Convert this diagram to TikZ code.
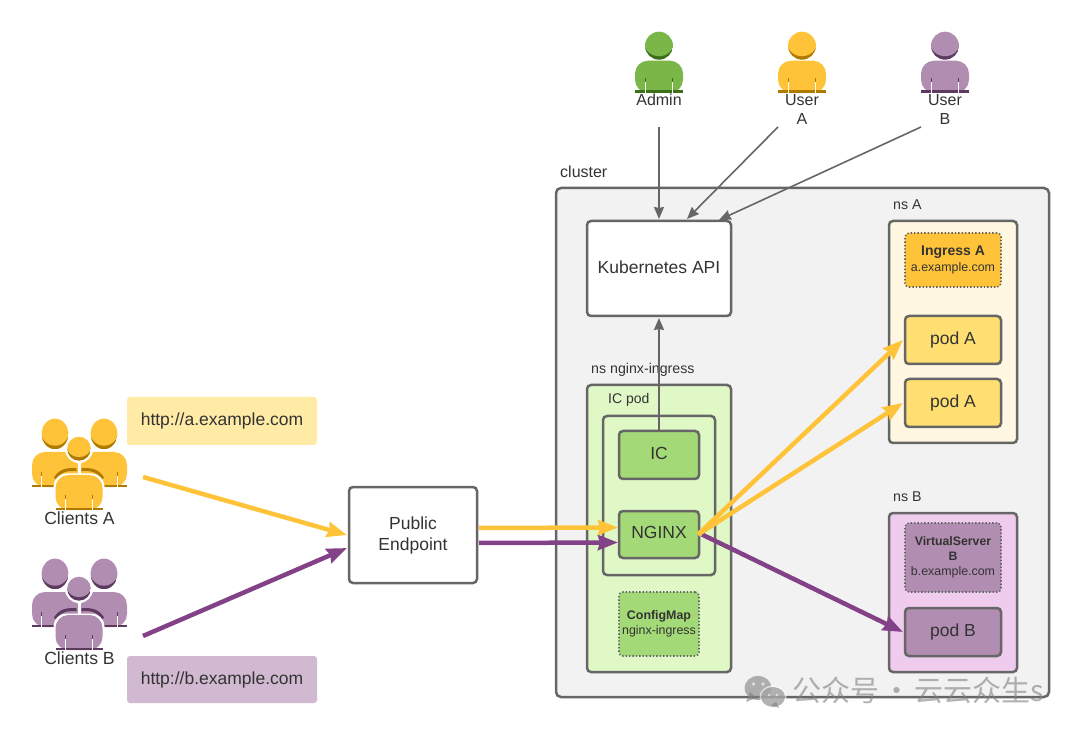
\documentclass[tikz,border=0pt]{standalone}
\usepackage{fontspec}
\setmainfont{Liberation Sans}
\newfontfamily\cjkfont{Noto Sans CJK SC}
\usetikzlibrary{arrows.meta}
\definecolor{txtgrey}{RGB}{51,51,51}
\definecolor{linegrey}{RGB}{102,102,102}
\definecolor{clusterfill}{RGB}{242,242,242}
\definecolor{nsgreen}{RGB}{224,248,198}
\definecolor{boxgreen}{RGB}{163,217,119}
\definecolor{nsyellow}{RGB}{255,247,225}
\definecolor{boxyellow}{RGB}{255,223,113}
\definecolor{boxorange}{RGB}{255,195,58}
\definecolor{nspurple}{RGB}{239,204,238}
\definecolor{boxpurple}{RGB}{177,142,177}
\definecolor{darkpurple}{RGB}{94,58,97}
\definecolor{darkorange}{RGB}{176,122,0}
\definecolor{usergreen}{RGB}{122,182,72}
\definecolor{darkgreen}{RGB}{58,112,24}
\definecolor{flowpurple}{RGB}{131,65,135}
\definecolor{urlyellow}{RGB}{255,235,166}
\definecolor{urlpurple}{RGB}{209,185,209}
\definecolor{markgrey}{RGB}{128,128,128}
\tikzset{
  box/.style={draw=linegrey,line width=2.5pt,rounded corners=4pt,outer sep=0pt,inner sep=0pt,align=center,text=txtgrey,font=\fontsize{17.5}{21}\selectfont},
  noteline/.style={box,dash pattern=on 1.4pt off 2pt,line width=1.6pt,font=\fontsize{12.4}{15}\selectfont},
  urlbox/.style={rounded corners=3pt,outer sep=0pt,inner sep=0pt,text=txtgrey,font=\fontsize{17.5}{21}\selectfont},
  lbl/.style={text=txtgrey,inner sep=0pt,align=center,font=\fontsize{16}{19}\selectfont},
  nslbl/.style={lbl,anchor=west,font=\fontsize{14.2}{17}\selectfont},
  flowA/.style={draw=boxorange,line width=4.5pt,-{Stealth[length=20pt,width=15pt,inset=2pt]}},
  flowB/.style={draw=flowpurple,line width=4.5pt,-{Stealth[length=20pt,width=15pt,inset=2pt]}},
  apiarrow/.style={draw=linegrey,line width=1.6pt,-{Stealth[length=12pt,width=10pt,inset=1pt]}},
  pics/person/.style n args={7}{code={
    \begin{scope}
      \clip (0,#7-#1) ellipse (#1 and #7);
      \fill[#6] (-#1,#7-#1) rectangle (#1,2*#7-#1);
      \fill[#5] (0,#7-#1-3.5) ellipse (#1+1 and #7);
    \end{scope}
    \fill[#5,rounded corners=13pt] (-#4,#3) -- (-#4,#2) -- (#4,#2) -- (#4,#3) -- cycle;
    \fill[#6] (-#4,#3-2.5) rectangle (#4,#3);
    \foreach \sx in {-13.5,13.5} {
      \draw[white,line width=1.5pt] (\sx,#3) -- (\sx,#3-11);
      \draw[#6,line width=1.5pt] (\sx,#3-11) -- (\sx,#3-15);
    }
  }},
  pics/crowd/.style n args={2}{code={
    \pic at (-24,-16.5) {person={13.4}{20}{55}{23}{#1}{#2}{15.3}};
    \pic at (25,-16.5) {person={13.4}{20}{55}{23}{#1}{#2}{15.3}};
    \fill[#1] (-13,18) rectangle (-8,30);
    \fill[#1] (9,18) rectangle (14,30);
    \draw[#2,line width=3pt] (-24,30) .. controls (-18,21) and (-12,21) .. (-2.5,21);
    \draw[#2,line width=3pt] (24,30) .. controls (18,21) and (12,21) .. (2.5,21);
    \draw[white,line width=1.5pt] (0,15) -- (0,27);
    \fill[white] (0,0.5) circle (14);
    \fill[white,rounded corners=13pt] (-25.5,62) -- (-25.5,25) -- (25.5,25) -- (25.5,62) -- cycle;
    \pic at (0,0) {person={11.8}{26.5}{61.5}{23.5}{#1}{#2}{12}};
  }},
}
\begin{document}
\begin{tikzpicture}[x=1pt,y=-1pt]
  \useasboundingbox (0,0) rectangle (1080,735);
  % boxes of the cluster
  \node[box,fill=clusterfill,rounded corners=5pt,minimum width=493pt,minimum height=509pt] (cluster) at (802.5,442.5) {};
  \node[lbl,anchor=west] (clusterlbl) at (560,172) {cluster};
  \node[box,fill=white,minimum width=144pt,minimum height=95pt,text depth=2pt] (api) at (659,268.5) {Kubernetes API};
  \node[box,fill=nsgreen,minimum width=144pt,minimum height=287pt] (nsnginx) at (659,528.5) {};
  \node[nslbl] (nsnginxlbl) at (591,370) {ns nginx-ingress};
  \node[box,fill=nsgreen,minimum width=112pt,minimum height=159pt] (icpod) at (659,495.5) {};
  \node[nslbl,font=\fontsize{14}{17}\selectfont] (icpodlbl) at (608,400) {IC pod};
  \node[box,fill=boxgreen,minimum width=80pt,minimum height=48pt,text depth=4pt] (ic) at (659,455) {IC};
  \node[box,fill=boxgreen,minimum width=80pt,minimum height=47pt,text depth=4pt] (nginx) at (659,534.5) {NGINX};
  \node[noteline,fill=boxgreen,minimum width=80pt,minimum height=64pt] (configmap) at (659,624) {\textbf{ConfigMap}\\nginx-ingress};
  \node[box,fill=nsyellow,minimum width=128pt,minimum height=222pt] (nsA) at (953,332) {};
  \node[nslbl] (nsAlbl) at (893,204.5) {ns A};
  \node[noteline,fill=boxorange,minimum width=96pt,minimum height=54pt,font=\fontsize{12.4}{16}\selectfont] (ingressA) at (953,260) {\fontsize{14}{16}\selectfont\textbf{Ingress A}\\a.example.com};
  \node[box,fill=boxyellow,minimum width=96pt,minimum height=48pt] (podAone) at (953,340) {pod A};
  \node[box,fill=boxyellow,minimum width=96pt,minimum height=48pt] (podAtwo) at (953,403) {pod A};
  \node[box,fill=nspurple,minimum width=128pt,minimum height=159pt] (nsB) at (953,592.5) {};
  \node[nslbl] (nsBlbl) at (893,497) {ns B};
  \node[noteline,fill=boxpurple,minimum width=96pt,minimum height=69pt] (vserver) at (953,557.5) {\fontsize{12.3}{15}\selectfont\textbf{VirtualServer}\\\fontsize{12.3}{15}\selectfont\textbf{B}\\b.example.com};
  \node[box,fill=boxpurple,minimum width=96pt,minimum height=48pt] (podB) at (953,632) {pod B};
  % left side
  \node[box,fill=white,minimum width=128pt,minimum height=96pt] (endpoint) at (413,535) {Public\\Endpoint};
  \node[urlbox,fill=urlyellow,minimum width=190pt,minimum height=48pt] (urlA) at (222,421) {http://a.example.com};
  \node[urlbox,fill=urlpurple,minimum width=190pt,minimum height=47pt] (urlB) at (222,679.5) {http://b.example.com};
  \pic at (79,448.5) {crowd={boxorange}{darkorange}};
  \pic at (79,588.5) {crowd={boxpurple}{darkpurple}};
  \node[lbl,font=\fontsize{17.6}{21}\selectfont] (clientsA) at (79.5,518.5) {Clients A};
  \node[lbl,font=\fontsize{17.6}{21}\selectfont] (clientsB) at (79.5,658.5) {Clients B};
  % users on top
  \pic at (659,45.7) {person={14}{15}{47}{24}{usergreen}{darkgreen}{14}};
  \pic at (802,45.7) {person={14}{15}{47}{24}{boxorange}{darkorange}{14}};
  \pic at (945,45.7) {person={14}{15}{47}{24}{boxpurple}{darkpurple}{14}};
  \node[lbl] (admin) at (659,100) {Admin};
  \node[lbl] (userA) at (802,109.5) {User\\A};
  \node[lbl] (userB) at (945,109.5) {User\\B};
  \coordinate (adminout) at (659,127);
  \coordinate (userAout) at (778,127);
  \coordinate (userBout) at (921,127);
  \coordinate (clientsAout) at (143,477);
  \coordinate (clientsBout) at (143,636);
  % connectors
  \draw[apiarrow] (adminout) -- ([yshift=2pt]api.north);
  \draw[apiarrow] (userAout) -- ([xshift=28pt,yshift=2pt]api.north);
  \draw[apiarrow] (userBout) -- ([xshift=60pt,yshift=1pt]api.north);
  \draw[apiarrow] (ic.north) -- ([yshift=-2pt]api.south);
  \draw[flowA] (clientsAout) -- ([xshift=-2pt]endpoint.west);
  \draw[flowB] (clientsBout) -- ([xshift=-2pt,yshift=-13pt]endpoint.west);
  \draw[flowB] ([xshift=2pt,yshift=-8pt]endpoint.east) -- ([xshift=-1pt,yshift=-8pt]nginx.west);
  \draw[flowA] ([xshift=2pt,yshift=7pt]endpoint.east) -- ([xshift=-1pt,yshift=7pt]nginx.west);
  \draw[flowB] ([xshift=3pt]nginx.east) -- ([xshift=-2pt]podB.west);
  \draw[flowA] ([xshift=-1pt]nginx.east) -- ([xshift=-2pt]podAone.west);
  \draw[flowA] ([xshift=-1pt]nginx.east) -- ([xshift=-2pt]podAtwo.west);
  % watermark
  \begin{scope}[opacity=.6]
    \fill[markgrey] (758,688) ellipse (13.5 and 12);
    \fill[markgrey] (746,702) -- (750,692) -- (756,698) -- cycle;
    \fill[white] (773,697) ellipse (13.5 and 11.5);
    \fill[markgrey] (773,697) ellipse (12 and 10);
    \fill[markgrey] (779,708) -- (776,702) -- (771,705) -- cycle;
    \fill[white] (753.5,684) circle (1.8) (763,684) circle (1.8) (769,695) circle (1.4) (777,695) circle (1.4);
  \end{scope}
  \node[inner sep=0pt,anchor=west,text=markgrey,text opacity=.6,font=\cjkfont\fontsize{29}{30}\selectfont] (mark) at (792,690) {公众号\hspace{3pt}·\hspace{3pt}云云众生s};
\end{tikzpicture}
\end{document}
